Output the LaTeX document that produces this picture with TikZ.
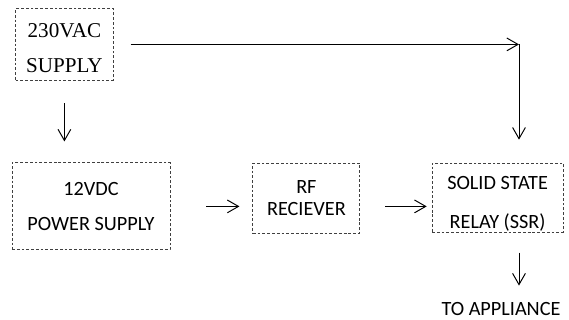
\documentclass[tikz,border=0pt]{standalone}
\usepackage{fontspec}
\setmainfont{Carlito}
\newfontfamily\mainsfont{Liberation Serif}
\usetikzlibrary{arrows.meta}
\tikzset{
	blk/.style={draw=black!75, line width=0.6pt, dash pattern=on 2pt off 1.4pt, align=center, inner sep=0pt},
	arr/.style={-{Straight Barb[length=2.8mm,width=3.2mm]}, line width=0.7pt}
}
\begin{document}
\begin{tikzpicture}[font=\fontsize{14.4pt}{17pt}\selectfont]
		\useasboundingbox (0,0) rectangle (14.225,-8);
		% blocks
		\node[blk, minimum width=2.44cm, minimum height=1.78cm, font=\mainsfont\fontsize{15pt}{17pt}\selectfont] (ac) at (1.61,-1.11) {\rule{0pt}{15pt}230VAC\\[8pt]SUPPLY};
		\node[blk, minimum width=3.95cm, minimum height=2.175cm] (dc) at (2.275,-5.16) {12VDC\\[8pt]POWER SUPPLY};
		\node[blk, minimum width=2.675cm, minimum height=1.75cm] (rf) at (7.66,-4.95) {RF\\[-1.4pt]RECIEVER};
		\node[blk, minimum width=3.275cm, minimum height=1.725cm] (ssr) at (12.44,-4.94) {\rule{0pt}{18pt}SOLID STATE\\[10.7pt]RELAY (SSR)};
		\node (load) at (12.525,-7.73) {TO APPLIANCE};
		\coordinate (corner) at (12.975,-1.1);
		
		% mains feed to the relay
		\draw[arr, shorten <=.425cm] (ac.east) -- (ac.east -| corner);
		\draw[arr, shorten >=.575cm] (corner) -- (corner |- ssr.north);
		
		\draw[arr, shorten <=.575cm, shorten >=.525cm] (ac.south) -- (ac.south |- dc.north);
		\draw[arr, shorten <=.9cm, shorten >=.325cm] (dc.east) -- (dc.east -| rf.west);
		\draw[arr, shorten <=.625cm, shorten >=.125cm] (rf.east |- dc.east) -- (dc.east -| ssr.west);
		\draw[arr, shorten <=.5cm, shorten >=.3cm] (ssr.south -| corner) -- (load.north -| corner);
		\end{tikzpicture}
\end{document}
